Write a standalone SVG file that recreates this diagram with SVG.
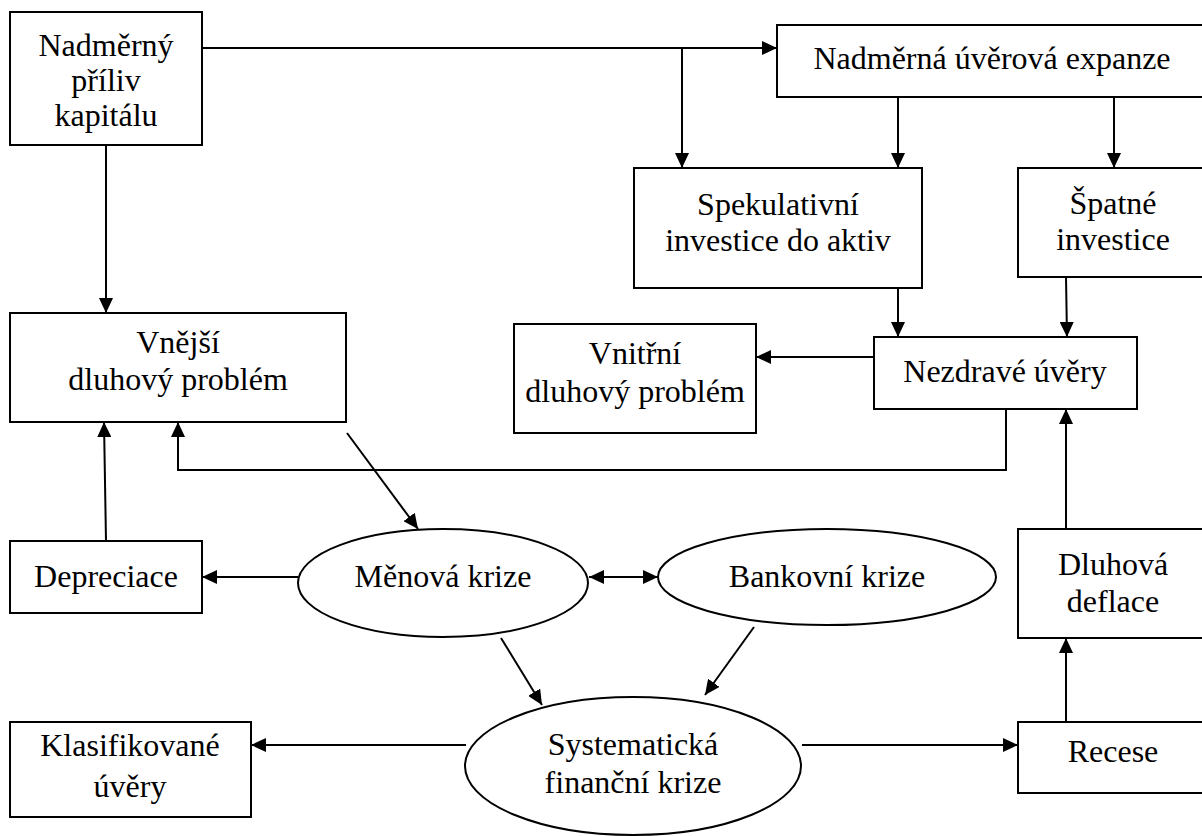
<svg xmlns="http://www.w3.org/2000/svg" width="1202" height="836" viewBox="0 0 1202 836">
<defs>
<style>
.box{fill:#fff;stroke:#000;stroke-width:2}
.ell{fill:#fff;stroke:#000;stroke-width:2}
.t{font-family:"Liberation Serif","Times New Roman",serif;font-size:32px;fill:#000;text-anchor:middle}
.c{fill:none;stroke:#000;stroke-width:2}
.a{marker-end:url(#ah)}
</style>
<marker id="ah" markerUnits="userSpaceOnUse" markerWidth="16" markerHeight="14" refX="15" refY="7" orient="auto">
<path d="M0,0 L15,7 L0,14 z" fill="#000"/>
</marker>
<marker id="as" markerUnits="userSpaceOnUse" markerWidth="16" markerHeight="14" refX="0" refY="7" orient="auto">
<path d="M15,0 L0,7 L15,14 z" fill="#000"/>
</marker>
</defs>
<rect width="1202" height="836" fill="#fff"/>

<g id="connectors">
<path class="c a" d="M202,48 H777"/>
<path class="c a" d="M682,48 V168"/>
<path class="c a" d="M106,145 V313"/>
<path class="c a" d="M898,97 V168"/>
<path class="c a" d="M1114,97 V168"/>
<path class="c a" d="M898,288 V337"/>
<path class="c a" d="M1066,277 L1067,337"/>
<path class="c a" d="M874,357 H756"/>
<path class="c a" d="M1006,409 V470 H178 V422"/>
<path class="c a" d="M347,433 L418,529"/>
<path class="c a" d="M106,541 L104,422"/>
<path class="c a" d="M298,577 H202"/>
<path class="c a" d="M589,577 H658" style="marker-start:url(#as)"/>
<path class="c a" d="M501,638 L542,705"/>
<path class="c a" d="M754,627 L705,695"/>
<path class="c a" d="M466,745 H251"/>
<path class="c a" d="M802,745 H1018"/>
<path class="c a" d="M1066,722 V638"/>
<path class="c a" d="M1066,529 V409"/>
</g>

<g id="n_priliv">
<rect class="box" x="10" y="12" width="192" height="133"/>
<text class="t" x="106" y="56">Nadměrný</text>
<text class="t" x="106" y="91">příliv</text>
<text class="t" x="106" y="126">kapitálu</text>
</g>
<g id="n_expanze">
<rect class="box" x="777" y="25" width="440" height="72"/>
<text class="t" x="992" y="69">Nadměrná úvěrová expanze</text>
</g>
<g id="n_spekulativni">
<rect class="box" x="634" y="168" width="288" height="120"/>
<text class="t" x="778" y="215">Spekulativní</text>
<text class="t" x="778" y="251">investice do aktiv</text>
</g>
<g id="n_spatne">
<rect class="box" x="1018" y="168" width="200" height="109"/>
<text class="t" x="1113" y="214">Špatné</text>
<text class="t" x="1113" y="250">investice</text>
</g>
<g id="n_nezdrave">
<rect class="box" x="874" y="337" width="263" height="72"/>
<text class="t" x="1005" y="382">Nezdravé úvěry</text>
</g>
<g id="n_vnitrni">
<rect class="box" x="514" y="324" width="242" height="109"/>
<text class="t" x="635" y="364">Vnitřní</text>
<text class="t" x="635" y="402">dluhový problém</text>
</g>
<g id="n_vnejsi">
<rect class="box" x="10" y="313" width="336" height="109"/>
<text class="t" x="178" y="353">Vnější</text>
<text class="t" x="178" y="390">dluhový problém</text>
</g>
<g id="n_depreciace">
<rect class="box" x="10" y="541" width="192" height="72"/>
<text class="t" x="106" y="587">Depreciace</text>
</g>
<g id="n_menova">
<ellipse class="ell" cx="443" cy="583" rx="145" ry="54"/>
<text class="t" x="443" y="587">Měnová krize</text>
</g>
<g id="n_bankovni">
<ellipse class="ell" cx="827" cy="577" rx="169" ry="48"/>
<text class="t" x="827" y="587">Bankovní krize</text>
</g>
<g id="n_systematicka">
<ellipse class="ell" cx="633" cy="766" rx="168" ry="69"/>
<text class="t" x="633" y="755">Systematická</text>
<text class="t" x="633" y="793">finanční krize</text>
</g>
<g id="n_klasifikovane">
<rect class="box" x="10" y="722" width="241" height="95"/>
<text class="t" x="130" y="756">Klasifikované</text>
<text class="t" x="130" y="797">úvěry</text>
</g>
<g id="n_recese">
<rect class="box" x="1018" y="722" width="200" height="71"/>
<text class="t" x="1113" y="762">Recese</text>
</g>
<g id="n_dluhova">
<rect class="box" x="1018" y="529" width="200" height="109"/>
<text class="t" x="1113" y="575">Dluhová</text>
<text class="t" x="1113" y="612">deflace</text>
</g>
</svg>
